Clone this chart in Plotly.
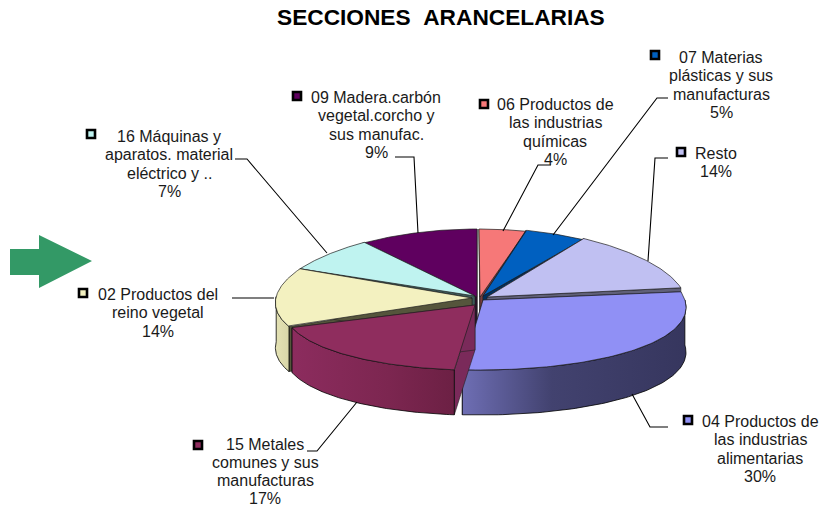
import math
import numpy as np
import plotly.graph_objects as go

# ---- data (clockwise from 12 o'clock) ----
categories = [["06 Productos de", "las industrias", "químicas"], ["07 Materias", "plásticas y sus", "manufacturas"], ["Resto"],
              ["04 Productos de", "las industrias", "alimentarias"], ["15 Metales", "comunes y sus", "manufacturas"],
              ["02 Productos del", "reino vegetal"], ["16 Máquinas y", "aparatos. material", "eléctrico y .."],
              ["09 Madera.carbón", "vegetal.corcho y", "sus manufac."]]
values = [3.9, 5.0, 14.1, 29.5, 17.3, 14.2, 7.0, 9.0]
percent_labels = ["4%", "5%", "14%", "30%", "17%", "14%", "7%", "9%"]
title_text = "SECCIONES&nbsp;&nbsp;ARANCELARIAS"

# ---- styles ----
top_colors = ["#f67878", "#0060c0", "#c0c0f2", "#9090f5", "#8f2d5e", "#f3f1c0", "#bff3f0", "#5f005f"]
wall_colors = ["#7a3c3c", "#003060", "#606079", "#48487a", "#7a2a5a", "#55553c", "#3c5a58", "#2f002f"]
side_gradients = [
    None, None, None,
    [[0, "#6e6eb4"], [0.4, "#42426f"], [1, "#36365e"]],
    [[0, "#8c2c5e"], [0.6, "#7c2650"], [1, "#6c2044"]],
    [[0, "#e4e2b4"], [1, "#d8d6a8"]],
    None, None,
]
# rim displacement at the clockwise-first and clockwise-last edge of each slice
rim_start = [(0, 1), (0, 0), (1, -1), (1, 3), (-7, 3), (4, 0), (0, 0), (-2, 1)]
rim_end = [(0, 1), (0, 0), (1, -1), (1, 3), (7, 1), (0, 0), (0, 0), (-2, 1)]
apex_at = [(480, 297), (483, 296), (487, 297), (483, 300), (475, 305), (472, 298), (475, 296), (477, 297)]

# label layout: centre x, first line y, line step, marker x, marker y
label_pos = [(555, 104, 18.6, 484, 104), (721, 57, 18.6, 655, 55), (716, 153, 18.6, 681, 152), (760, 421, 18.6, 688, 420),
             (265, 444.5, 18.0, 198, 445), (158, 294, 18.6, 83, 293), (169, 136, 18.6, 91, 134), (376, 97, 18.6, 297, 96)]
leaders = [[(551, 165), (538, 165), (503, 231)], [(668, 98), (657, 98), (553, 235)],
           [(668, 158), (655, 158), (648, 261)], [(668, 427), (650, 427), (632, 394)],
           [(307, 451), (317, 451), (357, 402)], [(232, 298), (274, 298)],
           [(235, 159), (247, 159), (327, 253)], [(395, 157), (414, 157), (418, 233)]]

CX, CY, RX, RY, DEPTH, PERSP = 479.0, 297.5, 205.0, 69.5, 45.0, 0.10
FS = 16.0
FONT = "Liberation Sans"
# the view foreshortens the angles
WARP_IN = [0, 33, 83, 189, 251, 303, 328, 360]
WARP_OUT = [0, -1.5, 0, 4.5, 6, 8, 5, 0]


def view_angle(theta):
    return theta - float(np.interp(theta, WARP_IN, WARP_OUT))


def project(theta):
    t = math.radians(view_angle(theta))
    k = 1 - PERSP * math.cos(t)
    return CX + RX * math.sin(t) * k, CY - RY * math.cos(t)


fig = go.Figure()


def poly(xs, ys, fill, line_color="#000000", width=0.8, gradient=None):
    kw = dict(x=list(xs), y=list(ys), mode="lines", fill="toself",
              line=dict(color=line_color, width=width), hoverinfo="skip", showlegend=False)
    if gradient is not None:
        kw["fillgradient"] = dict(type="horizontal", colorscale=gradient)
    else:
        kw["fillcolor"] = fill
    fig.add_trace(go.Scatter(**kw))


edges = np.cumsum([0] + values) / sum(values) * 360
mids = (edges[:-1] + edges[1:]) / 2
order = sorted(range(len(values)), key=lambda i: -math.cos(math.radians(mids[i])))

for i in order:
    a0, a1 = edges[i], edges[i + 1]
    thetas = np.linspace(a0, a1, 90)
    pts = [project(t) for t in thetas]
    blend = np.linspace(0, 1, 90)
    xs = [p[0] + rim_start[i][0] * (1 - b) + rim_end[i][0] * b for p, b in zip(pts, blend)]
    ys = [p[1] + rim_start[i][1] * (1 - b) + rim_end[i][1] * b for p, b in zip(pts, blend)]
    ax, ay = apex_at[i]

    # radial walls
    for j in (0, -1):
        poly([ax, xs[j], xs[j], ax, ax], [ay, ys[j], ys[j] + DEPTH, ay + DEPTH, ay],
             wall_colors[i], line_color="#222222", width=0.6)

    # outer rim (only the part that faces the viewer)
    front = [k for k, t in enumerate(thetas) if math.cos(math.radians(view_angle(t))) < 0.02]
    if front:
        fx = [xs[k] for k in front]
        fy = [ys[k] for k in front]
        poly(fx + fx[::-1] + fx[:1], fy + [y + DEPTH for y in fy[::-1]] + fy[:1],
             top_colors[i], gradient=side_gradients[i], width=0.8)

    # top face
    poly([ax] + xs + [ax], [ay] + ys + [ay], top_colors[i], line_color="#1c1c1c", width=0.7)

# leader lines
for pts in leaders:
    fig.add_trace(go.Scatter(x=[p[0] for p in pts], y=[p[1] for p in pts], mode="lines",
                             line=dict(color="#000000", width=1.1), hoverinfo="skip", showlegend=False))

# legend keys
fig.add_trace(go.Scatter(x=[p[3] for p in label_pos], y=[p[4] for p in label_pos], mode="markers",
                         marker=dict(symbol="square", size=8, color=top_colors,
                                     line=dict(color="#000000", width=2.6)),
                         hoverinfo="skip", showlegend=False))

annotations = []
for name_lines, pct, (lx, ly, step, _, _) in zip(categories, percent_labels, label_pos):
    for n, line_text in enumerate(name_lines + [pct]):
        annotations.append(dict(x=lx, y=ly + n * step, xref="x", yref="y", text=line_text, showarrow=False,
                                xanchor="center", yanchor="middle", borderpad=0,
                                font=dict(family=FONT, size=FS, color="#1a1a1a")))
annotations.append(dict(x=441, y=17, xref="x", yref="y", text=f"<b>{title_text}</b>", showarrow=False,
                        xanchor="center", yanchor="middle", font=dict(family=FONT, size=22.7, color="#000000")))

fig.update_layout(
    width=829, height=508, autosize=False,
    margin=dict(l=0, r=0, t=0, b=0),
    paper_bgcolor="#ffffff", plot_bgcolor="#ffffff",
    showlegend=False,
    xaxis=dict(range=[0, 829], visible=False, fixedrange=True),
    yaxis=dict(range=[508, 0], visible=False, fixedrange=True),
    annotations=annotations,
    shapes=[dict(type="path", path="M10,249 L39,249 L39,235 L92,261 L39,288 L39,275 L10,275 Z",
                 xref="x", yref="y", fillcolor="#339966", line=dict(width=0), layer="below")],
)
fig.write_html("out.html", config={"displayModeBar": False},
               post_script="document.body.style.margin='0';document.documentElement.style.overflow='hidden';")
